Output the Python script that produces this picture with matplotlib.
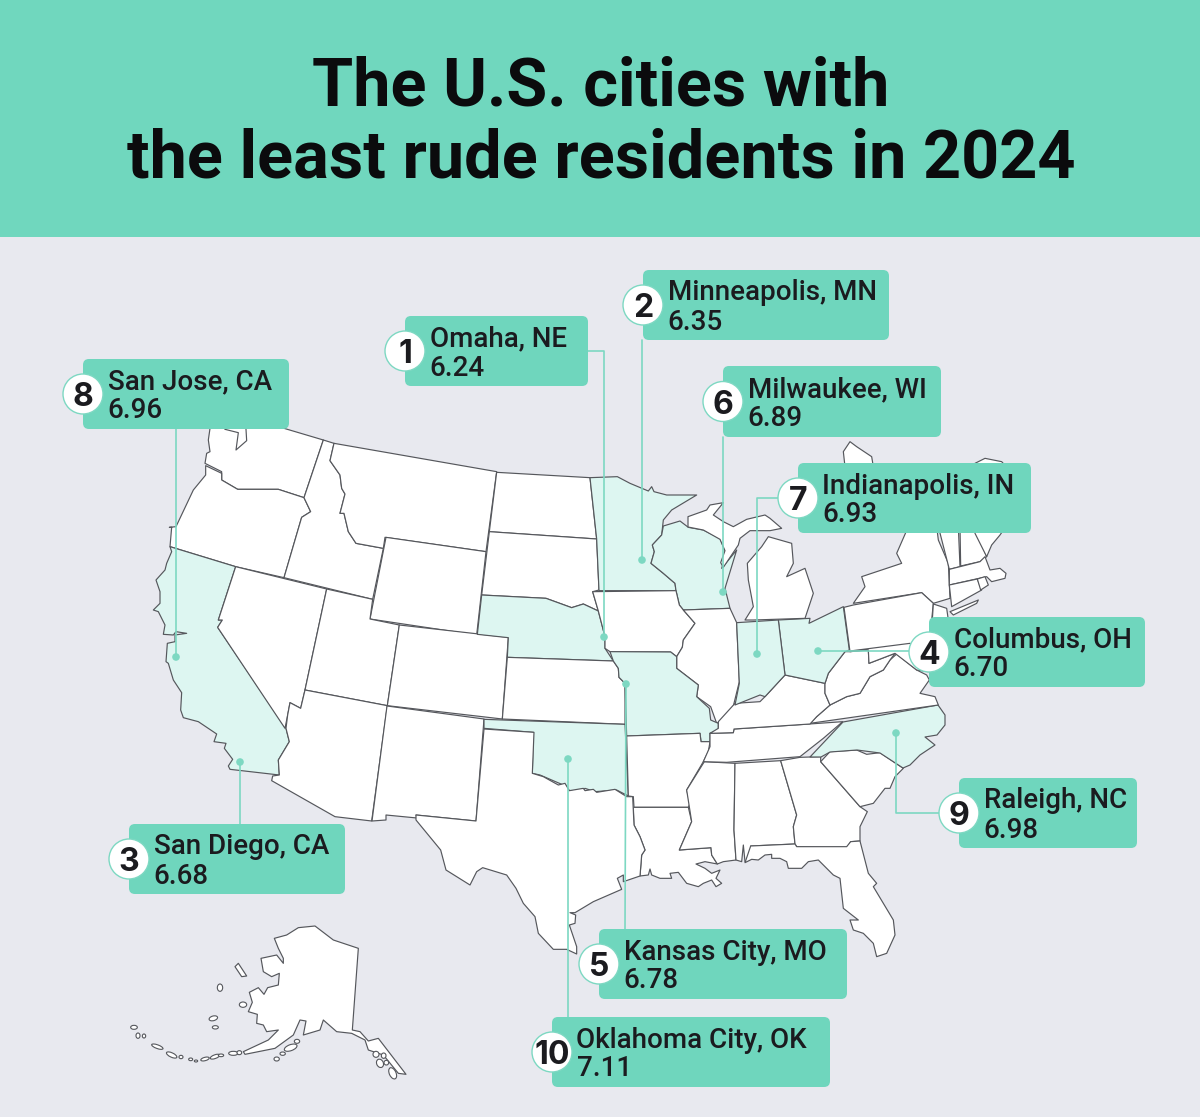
import matplotlib
matplotlib.use('Agg')
import matplotlib.pyplot as plt
from matplotlib.patches import Polygon, FancyBboxPatch, Circle, Ellipse, Rectangle

title_lines = ["The U.S. cities with", "the least rude residents in 2024"]
ranks = [1, 2, 3, 4, 5, 6, 7, 8, 9, 10]
cities = ["Omaha, NE", "Minneapolis, MN", "San Diego, CA", "Columbus, OH", "Kansas City, MO",
          "Milwaukee, WI", "Indianapolis, IN", "San Jose, CA", "Raleigh, NC", "Oklahoma City, OK"]
scores = ["6.24", "6.35", "6.68", "6.70", "6.78", "6.89", "6.93", "6.96", "6.98", "7.11"]
boxes = [(405,316,588,386),(643,270,889,340),(129,824,345,894),(929,617,1145,687),(599,929,847,999),
         (723,366,941,437),(798,463,1031,533),(83,359,289,429),(959,778,1137,848),(552,1017,830,1087)]
leaders = [[(588,351),(604,351),(604,637)],[(642,340),(642,560)],[(240,824),(240,762)],
           [(909,651),(818,651)],[(625,929),(626,684)],[(723,437),(723,592)],
           [(778,498),(757,498),(757,654)],[(176,429),(176,657)],[(939,813),(896,813),(896,733)],
           [(568,1017),(568,759)]]

HEADER = '#70D7BE'; BG = '#E8E9EF'; PALE = '#DDF6F1'; BOX = '#6FD6BD'; INK = '#1B1B1F'; EDGE = '#55575C'
LEAD = '#7DD8C2'

Z1, Z2, Z3, Z4, Z5 = (140,420), (470,440), (690,430), (410,720), (120,915)
PX = (0,0)
# state outlines: (crop origin, scale, points, highlighted)
states = [
 (Z1,3,[(218,-30),(205,60),(210,95),(200,100),(195,130),(245,155),(245,180),(293,208),(415,208),(492,233),(550,60),(432,25),(330,-10)],False),
 (Z1,3,[(197,137),(245,160),(245,180),(293,208),(415,208),(492,233),(512,275),(485,292),(432,473),(287,440),(90,380),(95,322),(88,322),(108,320),(160,210),(197,165)],False),
 (Z1,3,[(90,380),(287,440),(235,600),(247,600),(233,622),(438,925),(448,965),(415,1020),(418,1065),(270,1048),(265,1038),(278,1018),(253,985),(258,970),(222,965),(230,942),(175,905),(130,893),(122,870),(125,818),(100,780),(85,730),(78,725),(82,670),(105,665),(105,645),(140,640),(108,635),(100,645),(70,643),(75,615),(55,575),(40,570),(60,550),(60,515),(48,480),(75,450),(80,430),(95,395)],True),
 (Z1,3,[(287,440),(560,507),(495,810),(482,865),(450,848),(443,885),(435,925),(233,622),(247,600),(235,600)],False),
 (Z1,3,[(550,60),(582,70),(570,122),(600,165),(605,205),(615,222),(600,280),(612,280),(625,335),(648,370),(730,385),(698,538),(432,473),(485,292),(512,275),(492,233)],False),
 (Z1,3,[(582,70),(1070,155),(1038,395),(735,352),(730,385),(648,370),(625,335),(612,280),(600,280),(615,222),(605,205),(600,165),(570,122)],False),
 (Z1,3,[(738,352),(1038,395),(1010,645),(690,597)],False),
 (Z1,3,[(560,507),(698,538),(690,597),(778,615),(742,857),(495,810)],False),
 (Z1,3,[(778,615),(1105,652),(1087,897),(742,857)],False),
 (Z1,3,[(495,810),(742,857),(695,1203),(585,1190),(395,1082),(398,1068),(418,1065),(415,1020),(448,965),(438,925),(443,885),(450,848),(482,865)],False),
 (PX,1,[(387,706),(484,719),(476,821),(416,815),(417,818),(386,815),(386,820),(372,821)],False),
 (Z2,3,[(80,97),(360,113),(380,297),(58,275)],False),
 (Z2,3,[(58,275),(380,297),(387,450),(368,455),(385,513),(340,492),(305,503),(228,475),(35,465)],False),
 (Z2,3,[(35,465),(228,475),(305,503),(340,492),(385,513),(405,590),(405,625),(430,663),(112,652),(115,593),(22,583)],True),
 (Z2,3,[(112,652),(430,663),(445,685),(447,712),(465,730),(465,853),(97,837)],False),
 (Z2,3,[(42,838),(465,853),(475,1068),(440,1050),(375,1055),(345,1045),(335,1052),(298,1052),(280,1035),(210,1005),(187,1000),(190,877),(42,865)],True),
 (Z2,3,[(360,113),(442,110),(480,130),(535,153),(545,140),(552,155),(590,165),(680,165),(605,210),(580,240),(575,285),(547,315),(553,335),(543,370),(580,400),(615,430),(618,452),(387,452),(380,297)],True),
 (Z2,3,[(580,258),(630,243),(655,262),(700,270),(750,295),(768,340),(755,385),(800,330),(765,445),(780,505),(640,510),(628,495),(618,452),(615,430),(580,400),(543,370),(553,335),(547,315),(575,285)],True),
 (Z2,3,[(368,455),(618,452),(628,495),(640,510),(675,550),(640,600),(637,622),(620,650),(602,636),(420,635),(405,625),(405,590),(385,513)],False),
 (Z2,3,[(640,510),(780,505),(800,548),(808,725),(790,798),(778,832),(740,850),(722,800),(680,770),(685,735),(620,685),(620,650),(637,622),(640,600),(675,550)],False),
 (Z2,3,[(420,635),(602,636),(620,650),(620,685),(685,735),(680,770),(718,805),(722,840),(745,850),(745,870),(720,880),(720,905),(693,905),(690,880),(470,888),(465,730),(447,712),(445,685),(430,663)],True),
 (Z2,3,[(470,888),(690,880),(693,905),(720,905),(715,935),(700,965),(650,1050),(660,1090),(655,1102),(492,1102),(490,1070),(475,1068)],False),
 (Z4,3,[(670,262),(835,262),(845,305),(808,390),(903,383),(905,405),(922,432),(885,425),(858,432),(885,445),(905,460),(930,450),(918,475),(935,490),(918,500),(905,480),(880,490),(865,500),(830,490),(805,457),(780,460),(785,475),(750,475),(725,465),(720,447),(715,465),(690,468),(695,405),(705,390),(690,350),(672,315)],False),
 (Z4,3,[(222,27),(372,37),(367,160),(400,170),(445,195),(465,190),(478,212),(520,205),(525,212),(550,208),(560,217),(615,208),(650,230),(668,230),(672,315),(690,350),(705,390),(695,405),(690,468),(640,485),(640,465),(622,475),(635,508),(550,545),(495,578),(480,578),(497,585),(495,610),(478,615),(500,680),(500,702),(470,688),(430,688),(385,640),(375,590),(340,550),(318,505),(290,465),(218,443),(200,455),(180,495),(108,450),(92,390),(18,300),(18,285),(198,303)],False),
 (Z4,3,[(883,125),(975,130),(972,330),(978,420),(940,425),(922,432),(905,405),(903,383),(808,390),(845,305),(830,210)],False),
 (Z4,3,[(975,130),(1112,122),(1160,285),(1150,320),(1155,372),(1022,378),(1025,415),(1005,425),(1000,375),(995,425),(978,420),(972,330)],False),
 (Z4,3,[(1112,122),(1170,112),(1232,110),(1232,125),(1350,260),(1372,275),(1350,320),(1350,363),(1322,365),(1310,385),(1160,380),(1155,372),(1150,320),(1160,285)],False),
 (Z4,3,[(1022,378),(1155,372),(1160,380),(1310,380),(1322,365),(1350,363),(1375,460),(1400,490),(1390,500),(1450,600),(1455,645),(1430,700),(1400,710),(1390,670),(1360,640),(1330,630),(1320,600),(1345,600),(1300,565),(1290,475),(1270,465),(1225,420),(1195,425),(1175,445),(1135,445),(1130,425),(1110,415),(1085,415),(1085,403),(1065,405),(1045,420),(1025,418),(1005,428)],False),
 (Z4,3,[(1232,125),(1260,95),(1340,90),(1370,103),(1410,98),(1480,145),(1455,170),(1440,205),(1425,205),(1390,250),(1350,260)],False),
 (Z3,3,[(60,910),(130,908),(132,897),(358,882),(458,875),(400,925),(330,980),(110,997),(40,995),(60,950)],False),
 (PX,1,[(810,757),(843,722),(938,705),(945,715),(945,725),(937,735),(925,737),(935,745),(920,755),(910,765),(903,768),(880,753),(857,750),(830,752),(821,757)],True),
 (Z3,3,[(360,880),(745,825),(735,800),(690,790),(718,750),(710,735),(680,720),(620,672),(600,690),(580,720),(540,740),(510,790),(470,800),(420,825),(380,860)],False),
 (Z3,3,[(85,875),(135,820),(210,815),(225,800),(285,735),(405,760),(405,790),(420,825),(380,860),(360,882),(132,897),(130,908),(60,910),(85,895)],False),
 (Z3,3,[(405,760),(415,730),(465,665),(480,665),(535,660),(537,700),(615,670),(600,690),(580,720),(540,740),(510,790),(470,800),(420,825),(405,790)],False),
 (Z3,3,[(265,570),(360,565),(357,580),(460,530),(478,660),(465,665),(415,730),(405,760),(285,735)],True),
 (Z3,3,[(140,578),(265,570),(285,735),(225,800),(210,795),(135,825),(148,760)],True),
 (Z3,3,[(172,400),(215,350),(235,320),(305,340),(310,400),(290,440),(345,415),(370,490),(345,565),(190,570),(165,570),(190,530),(175,450)],False),
 (Z3,3,[(-6,260),(50,240),(60,225),(100,218),(70,255),(100,275),(130,290),(170,268),(225,255),(240,265),(275,295),(240,302),(180,302),(150,325),(145,345),(100,412),(92,398),(105,362),(90,328),(40,300),(-6,291)],False),
 (Z3,3,[(655,290),(620,370),(635,400),(515,440),(525,470),(490,520),(695,488),(730,520),(780,505),(775,400),(745,330),(740,290)],False),
 (Z3,3,[(780,545),(865,510),(860,520),(790,555)],False),
 (Z3,3,[(490,525),(695,488),(730,520),(725,570),(722,640),(480,665),(462,532)],False),
 (Z3,3,[(730,522),(770,535),(775,570),(760,620),(725,600)],False),
 (Z3,3,[(480,663),(660,640),(715,725),(680,720),(615,670),(537,700),(535,660)],False),
 (Z3,3,[(745,290),(805,290),(810,410),(778,418)],False),
 (Z3,3,[(810,290),(855,290),(890,380),(870,395),(812,408)],False),
 (Z3,3,[(855,100),(885,85),(935,95),(985,150),(975,250),(930,315),(905,345),(890,380),(855,310)],False),
 (Z3,3,[(460,65),(480,35),(500,50),(545,80),(550,110),(465,110)],False),
 (Z3,3,[(778,418),(870,395),(885,380),(900,420),(930,415),(948,430),(945,445),(905,455),(890,440),(778,465)],False),
 (Z3,3,[(778,465),(862,447),(875,480),(785,530)],False),
 (Z3,3,[(862,447),(885,440),(895,465),(872,480)],False),
 (Z5,3,[(585,33),(640,75),(715,100),(697,345),(720,350),(745,378),(775,370),(858,478),(835,475),(790,420),(745,405),(735,375),(695,355),(650,350),(610,315),(600,345),(550,360),(558,318),(540,315),(520,360),(465,400),(375,418),(370,410),(445,375),(475,345),(440,350),(430,330),(410,325),(412,298),(385,290),(397,262),(388,232),(415,218),(432,238),(443,218),(475,210),(478,175),(455,185),(430,170),(423,130),(470,120),(490,145),(490,130),(475,100),(463,70),(500,60),(535,38)],False),
 (Z5,3,[(345,155),(355,145),(380,183),(365,185)],False),
]
islands = [(300,218,16,22,0),(369,269,22,16,0),(280,310,26,14,-15),(286,337,18,10,0),(42,337,20,12,0),(54,362,12,16,0),
           (72,363,10,12,0),(112,395,36,11,20),(155,420,34,13,25),(183,426,12,10,0),(212,433,12,8,0),(228,438,10,6,0),
           (255,432,26,10,-15),(285,425,30,11,-20),(303,421,16,8,0),(340,415,28,12,0),(358,413,14,12,0),(470,432,16,12,0),
           (488,416,16,10,0),(512,398,40,18,-20),(531,379,16,12,0),(768,418,18,18,0),(791,422,14,16,0),(780,445,20,26,-25),
           (799,443,14,14,0),(818,475,20,36,-25)]

fig = plt.figure(figsize=(12, 11.17), dpi=100, facecolor=BG)
ax = fig.add_axes([0, 0, 1, 1])
ax.set_xlim(0, 1200); ax.set_ylim(1117, 0); ax.axis('off')

ax.add_patch(Rectangle((0, 0), 1200, 237, fc=HEADER, ec='none', zorder=1))
for line, y in zip(title_lines, [88, 160]):
    ax.text(601, y, line, ha='center', va='center', fontsize=48, fontweight='bold', family='Roboto', color='#0B0B0D', zorder=2)

for origin, s, pts, hi in states:
    xy = [(origin[0] + x / s, origin[1] + y / s) for x, y in pts]
    ax.add_patch(Polygon(xy, closed=True, fc=PALE if hi else 'white', ec=EDGE, lw=0.85, joinstyle='round', zorder=3))
for x, y, w, h, a in islands:
    ax.add_patch(Ellipse((Z5[0] + x / 3, Z5[1] + y / 3), w / 3, h / 3, angle=a, fc='white', ec=EDGE, lw=0.8, zorder=3))
# Puget Sound inlet
ax.plot([140 + v / 3 for v in (255, 295, 288, 320, 318)], [420 + v / 3 for v in (28, 38, 90, 62, 28)], color=EDGE, lw=0.85, zorder=3)

for path in leaders:
    ax.plot([p[0] for p in path], [p[1] for p in path], color=LEAD, lw=1.2, zorder=4, solid_capstyle='round')
    ax.add_patch(Circle(path[-1], 3.8, fc=LEAD, ec='none', zorder=4))

for rank, city, score, (x0, y0, x1, y1) in zip(ranks, cities, scores, boxes):
    ax.add_patch(FancyBboxPatch((x0, y0), x1 - x0, y1 - y0, boxstyle='round,pad=0,rounding_size=6', fc=BOX, ec='none', zorder=5))
    yc = (y0 + y1) / 2
    ax.add_patch(Circle((x0, yc), 20, fc='white', ec=LEAD, lw=1, zorder=6))
    ax.text(x0, yc, str(rank), ha='center', va='center_baseline', fontsize=23, fontweight='bold', family='Inter', color=INK, zorder=7)
    ax.text(x0 + 24.5, yc - 15, city, ha='left', va='center_baseline', fontsize=20, fontweight='medium', family='Roboto', color=INK, zorder=7)
    ax.text(x0 + 24.5, yc + 14, score, ha='left', va='center_baseline', fontsize=20, fontweight='medium', family='Roboto', color=INK, zorder=7)

fig.savefig('out.png', dpi=100, facecolor=BG)
